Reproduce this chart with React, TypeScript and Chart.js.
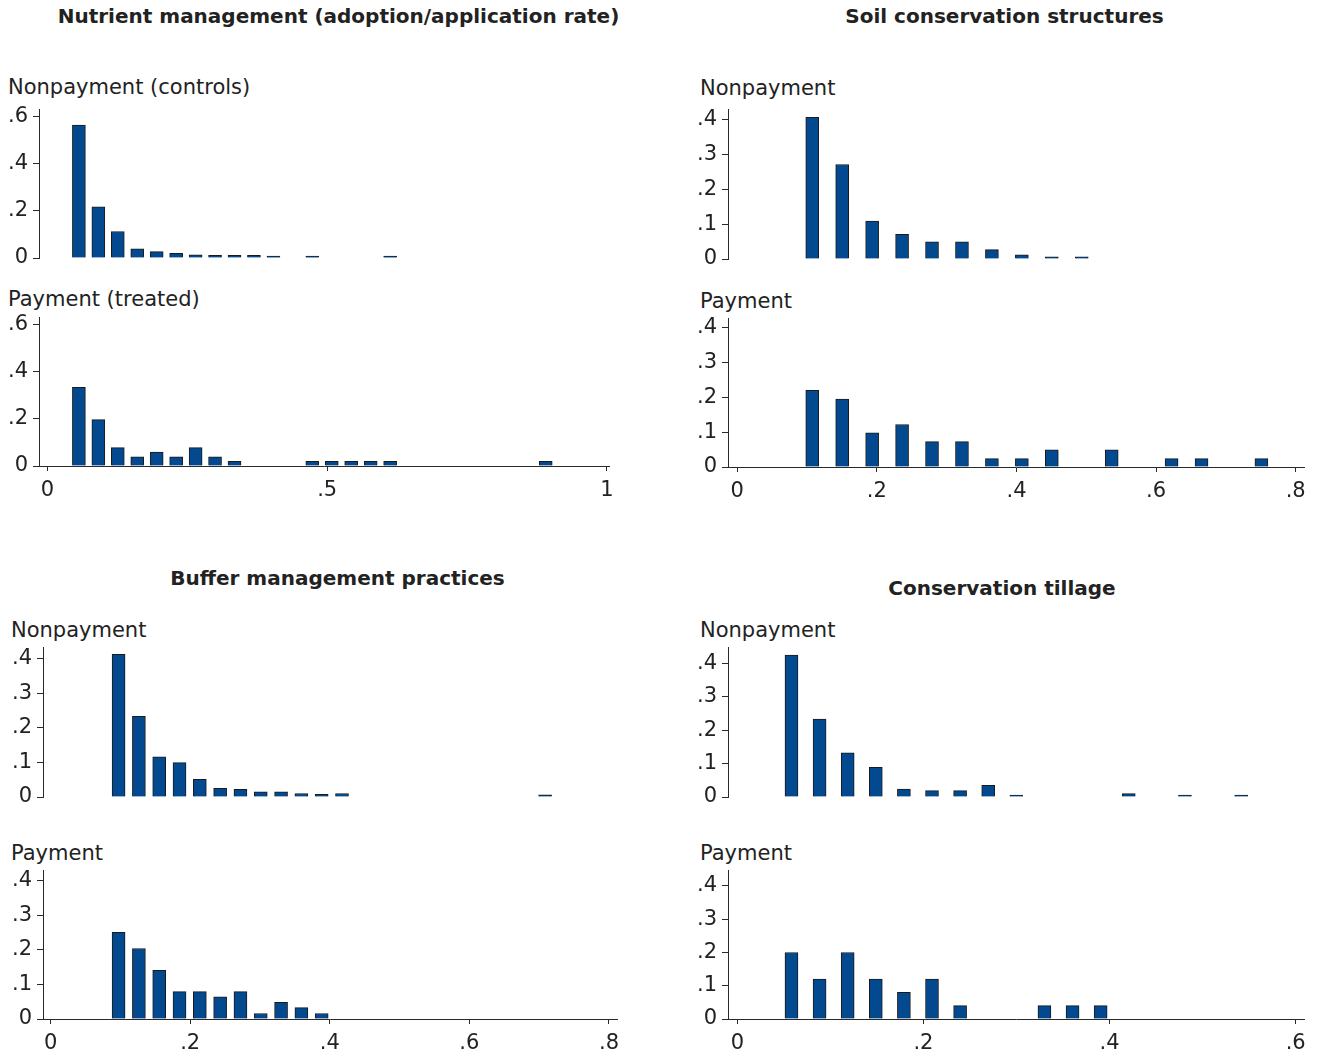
import React, { useEffect, useRef } from "react";
import { Chart, registerables } from "chart.js";

Chart.register(...registerables);

// ---------------- Data ----------------
// Nutrient management (adoption/application rate)
const nutrientBins = [0.0563, 0.0911, 0.1258, 0.1606, 0.1953, 0.2301, 0.2649, 0.2996, 0.3344, 0.3691, 0.4039, 0.4387, 0.4734, 0.5082, 0.5429, 0.5777, 0.6125, 0.6472, 0.682, 0.7167, 0.7515, 0.7863, 0.821, 0.8558, 0.8905];
const nutrientNonpayment = [0.562, 0.216, 0.112, 0.039, 0.027, 0.02, 0.013, 0.011, 0.011, 0.011, 0.008, null, 0.008, null, null, null, 0.008, null, null, null, null, null, null, null, null];
const nutrientPayment = [0.333, 0.196, 0.078, 0.039, 0.059, 0.039, 0.078, 0.039, 0.02, null, null, null, 0.02, 0.02, 0.02, 0.02, 0.02, null, null, null, null, null, null, null, 0.02];
const nutrientXTicks = [0, 0.5, 1];
const nutrientYTicks = [0, 0.2, 0.4, 0.6];

// Soil conservation structures
const soilBins = [0.1074, 0.1503, 0.1932, 0.2361, 0.279, 0.3219, 0.3648, 0.4077, 0.4506, 0.4935, 0.5364, 0.5793, 0.6222, 0.6651, 0.708, 0.7509];
const soilNonpayment = [0.406, 0.271, 0.109, 0.071, 0.049, 0.049, 0.027, 0.012, 0.006, 0.006, null, null, null, null, null, null];
const soilPayment = [0.22, 0.195, 0.098, 0.122, 0.073, 0.073, 0.024, 0.024, 0.049, null, 0.049, null, 0.024, 0.024, null, 0.024];
const soilXTicks = [0, 0.2, 0.4, 0.6, 0.8];
const soilYTicks = [0, 0.1, 0.2, 0.3, 0.4];

// Buffer management practices
const bufferBins = [0.0974, 0.1265, 0.1556, 0.1847, 0.2138, 0.2429, 0.272, 0.3011, 0.3302, 0.3593, 0.3884, 0.4175, 0.4466, 0.4757, 0.5048, 0.5339, 0.563, 0.5921, 0.6212, 0.6503, 0.6794, 0.7085];
const bufferNonpayment = [0.412, 0.233, 0.116, 0.099, 0.051, 0.025, 0.022, 0.015, 0.015, 0.01, 0.008, 0.01, null, null, null, null, null, null, null, null, null, 0.006];
const bufferPayment = [0.251, 0.204, 0.141, 0.079, 0.079, 0.064, 0.079, 0.016, 0.048, 0.033, 0.016, null, null, null, null, null, null, null, null, null, null, null];
const bufferXTicks = [0, 0.2, 0.4, 0.6, 0.8];
const bufferYTicks = [0, 0.1, 0.2, 0.3, 0.4];

// Conservation tillage
const tillageBins = [0.0582, 0.0884, 0.1186, 0.1488, 0.179, 0.2092, 0.2394, 0.2696, 0.2998, 0.33, 0.3602, 0.3904, 0.4206, 0.4508, 0.481, 0.5112, 0.5414];
const tillageNonpayment = [0.425, 0.233, 0.132, 0.089, 0.024, 0.019, 0.019, 0.035, 0.006, null, null, null, 0.01, null, 0.006, null, 0.006];
const tillagePayment = [0.2, 0.12, 0.2, 0.12, 0.08, 0.12, 0.04, null, null, 0.04, 0.04, 0.04, null, null, null, null, null];
const tillageXTicks = [0, 0.2, 0.4, 0.6];
const tillageYTicks = [0, 0.1, 0.2, 0.3, 0.4];

const panelTitles = [
  "Nutrient management (adoption/application rate)",
  "Soil conservation structures",
  "Buffer management practices",
  "Conservation tillage",
];

// ---------------- Styles ----------------
const FONT = "'DejaVu Sans', 'Liberation Sans', sans-serif";
const BAR_FILL = "#02498f";
const BAR_EDGE = "#1a1a1a";
const AXIS = "#2a2a2a";
const TEXT = "#222222";

type Box = { l: number; t: number; r: number; b: number };
type Sub = {
  label: string;
  labelLeft: number;
  labelTop: number;
  box: Box;
  bins: number[];
  values: (number | null)[];
  xMin: number;
  xMax: number;
  xTicks: number[];
  yMax: number;
  yTicks: number[];
  showX: boolean;
};

const fmt = (v: number) => {
  if (v === 0) return "0";
  const s = String(Number(v.toFixed(3)));
  return s.replace(/^0\./, ".");
};

const subplots: Sub[] = [
  { label: "Nonpayment (controls)", labelLeft: 8, labelTop: 75, box: { l: 39, t: 109, r: 609, b: 258 }, bins: nutrientBins, values: nutrientNonpayment, xMin: -0.015, xMax: 1.0036, xTicks: nutrientXTicks, yMax: 0.63, yTicks: nutrientYTicks, showX: false },
  { label: "Payment (treated)", labelLeft: 8, labelTop: 287, box: { l: 39, t: 317, r: 609, b: 466 }, bins: nutrientBins, values: nutrientPayment, xMin: -0.015, xMax: 1.0036, xTicks: nutrientXTicks, yMax: 0.63, yTicks: nutrientYTicks, showX: true },
  { label: "Nonpayment", labelLeft: 700, labelTop: 76, box: { l: 728, t: 109, r: 1304, b: 259 }, bins: soilBins, values: soilNonpayment, xMin: -0.0133, xMax: 0.8119, xTicks: soilXTicks, yMax: 0.43, yTicks: soilYTicks, showX: false },
  { label: "Payment", labelLeft: 700, labelTop: 289, box: { l: 728, t: 318, r: 1304, b: 467 }, bins: soilBins, values: soilPayment, xMin: -0.0133, xMax: 0.8119, xTicks: soilXTicks, yMax: 0.428, yTicks: soilYTicks, showX: true },
  { label: "Nonpayment", labelLeft: 11, labelTop: 618, box: { l: 43, t: 647, r: 617, b: 797 }, bins: bufferBins, values: bufferNonpayment, xMin: -0.0109, xMax: 0.8115, xTicks: bufferXTicks, yMax: 0.433, yTicks: bufferYTicks, showX: false },
  { label: "Payment", labelLeft: 11, labelTop: 841, box: { l: 43, t: 870, r: 617, b: 1019 }, bins: bufferBins, values: bufferPayment, xMin: -0.0109, xMax: 0.8115, xTicks: bufferXTicks, yMax: 0.431, yTicks: bufferYTicks, showX: true },
  { label: "Nonpayment", labelLeft: 700, labelTop: 618, box: { l: 728, t: 647, r: 1304, b: 797 }, bins: tillageBins, values: tillageNonpayment, xMin: -0.01, xMax: 0.6089, xTicks: tillageXTicks, yMax: 0.449, yTicks: tillageYTicks, showX: false },
  { label: "Payment", labelLeft: 700, labelTop: 841, box: { l: 728, t: 870, r: 1304, b: 1019 }, bins: tillageBins, values: tillagePayment, xMin: -0.01, xMax: 0.6089, xTicks: tillageXTicks, yMax: 0.448, yTicks: tillageYTicks, showX: true },
];

const titlePos = [
  { cx: 338.5, top: 4 },
  { cx: 1004.5, top: 4 },
  { cx: 337.5, top: 566 },
  { cx: 1002, top: 576 },
];

function Hist({ s }: { s: Sub }) {
  const ref = useRef<HTMLCanvasElement | null>(null);
  const { box } = s;
  const cl = Math.floor(box.l) - 42;
  const ct = Math.floor(box.t) - 16;
  const cw = Math.ceil(box.r) + 24 - cl;
  const xH = s.showX ? 40 : 0;
  const ch = Math.ceil(box.b) - ct + (s.showX ? xH + 6 : 18);

  useEffect(() => {
    if (!ref.current) return;
    const points = s.bins
      .map((x, i) => ({ x, y: s.values[i] }))
      .filter((p) => p.y !== null) as { x: number; y: number }[];
    const tickFont = { family: FONT, size: 21 };
    const chart = new Chart(ref.current, {
      type: "bar",
      data: {
        datasets: [
          {
            data: points as any,
            backgroundColor: BAR_FILL,
            borderColor: BAR_EDGE,
            borderWidth: 1,
            borderSkipped: "start",
            barThickness: 13,
          },
        ],
      },
      options: {
        responsive: false,
        animation: false,
        devicePixelRatio: 1,
        layout: {
          padding: {
            left: 0,
            top: box.t - ct,
            right: cl + cw - box.r,
            bottom: ct + ch - box.b - xH,
          },
        },
        plugins: {
          legend: { display: false },
          tooltip: { enabled: false },
          title: { display: false },
        },
        scales: {
          x: {
            type: "linear",
            display: s.showX,
            min: s.xMin,
            max: s.xMax,
            offset: false,
            grid: {
              display: true,
              offset: false,
              drawOnChartArea: false,
              drawTicks: true,
              tickLength: 5,
              color: AXIS,
              lineWidth: 1,
            },
            border: { display: true, color: AXIS, width: 1 },
            ticks: {
              font: tickFont,
              color: TEXT,
              padding: 7,
              maxRotation: 0,
              autoSkip: false,
              callback: (v: any) => fmt(Number(v)),
            },
            afterBuildTicks: (sc: any) => {
              sc.ticks = s.xTicks.map((v) => ({ value: v }));
            },
            afterFit: (sc: any) => {
              sc.height = xH;
              sc.paddingLeft = 0;
              sc.paddingRight = 0;
            },
          },
          y: {
            type: "linear",
            min: 0,
            max: s.yMax,
            grid: {
              display: true,
              drawOnChartArea: false,
              drawTicks: true,
              tickLength: 6,
              color: AXIS,
              lineWidth: 1,
            },
            border: { display: true, color: AXIS, width: 1 },
            ticks: {
              font: tickFont,
              color: TEXT,
              padding: 5,
              autoSkip: false,
              callback: (v: any) => fmt(Number(v)),
            },
            afterBuildTicks: (sc: any) => {
              sc.ticks = s.yTicks.map((v) => ({ value: v }));
            },
            afterFit: (sc: any) => {
              sc.width = box.l - cl;
              sc.paddingTop = 0;
              sc.paddingBottom = 0;
            },
          },
        },
      } as any,
    });
    return () => chart.destroy();
  }, []);

  return (
    <canvas
      ref={ref}
      width={cw}
      height={ch}
      style={{ position: "absolute", left: cl, top: ct, width: cw, height: ch }}
    />
  );
}

export default function App() {
  return (
    <div
      style={{
        position: "absolute",
        left: 0,
        top: 0,
        width: 1319,
        height: 1055,
        background: "#ffffff",
        fontFamily: FONT,
        color: TEXT,
        overflow: "hidden",
      }}
    >
      {panelTitles.map((t, i) => (
        <div
          key={"t" + i}
          style={{
            position: "absolute",
            left: titlePos[i].cx - 350,
            width: 700,
            top: titlePos[i].top,
            textAlign: "center",
            fontWeight: "bold",
            fontSize: 20,
            lineHeight: "24px",
            whiteSpace: "nowrap",
          }}
        >
          {t}
        </div>
      ))}
      {subplots.map((s, i) => (
        <div
          key={"l" + i}
          style={{
            position: "absolute",
            left: s.labelLeft,
            top: s.labelTop,
            fontSize: 21,
            lineHeight: "25px",
            whiteSpace: "nowrap",
          }}
        >
          {s.label}
        </div>
      ))}
      {subplots.map((s, i) => (
        <Hist key={"h" + i} s={s} />
      ))}
    </div>
  );
}
